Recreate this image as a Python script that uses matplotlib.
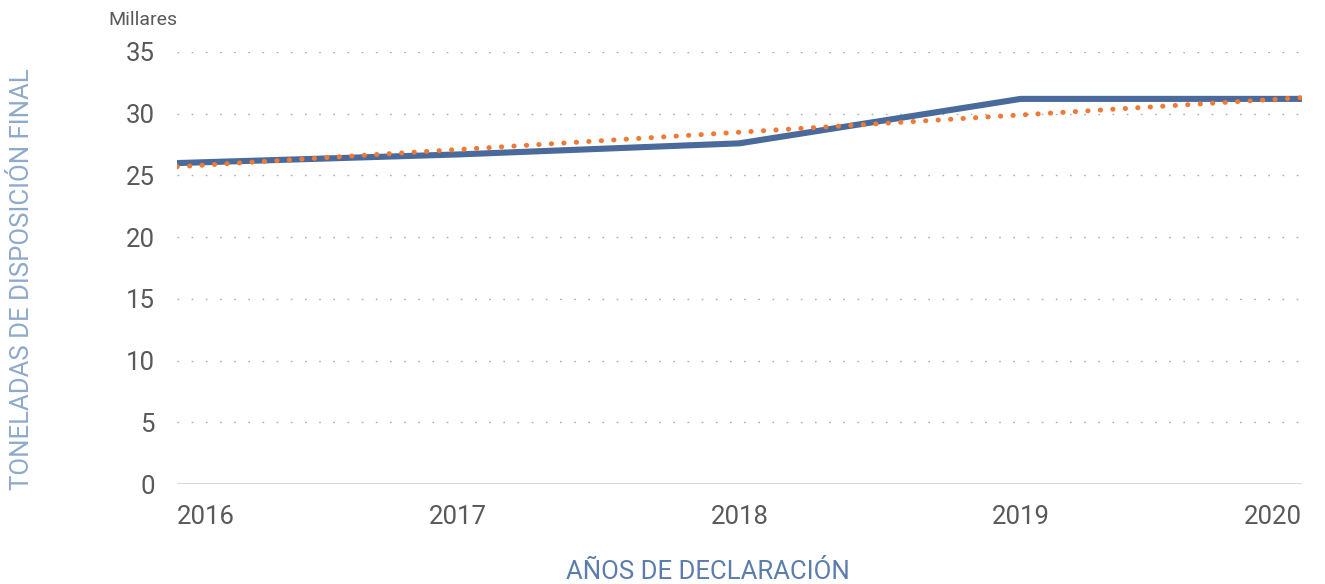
import matplotlib.pyplot as plt

plt.rcParams["font.family"] = ["Roboto", "DejaVu Sans"]

YEARS = [2016, 2017, 2018, 2019, 2020]
TONNES = [26.0, 26.7, 27.6, 31.2, 31.2]          # thousands
TREND = [25.7, 27.1, 28.5, 29.9, 31.3]           # linear trend
Y_TICKS = [0, 5, 10, 15, 20, 25, 30, 35]

BLUE = "#4A6A9C"
ORANGE = "#EF7A35"
TEXT = "#595959"

fig = plt.figure(figsize=(13.25, 5.84), dpi=100)
ax = fig.add_axes([0.1336, 0.1712, 0.8490, 0.7398])

ax.plot(YEARS, TONNES, color=BLUE, linewidth=4.4, solid_capstyle="butt", zorder=3)
ax.plot(YEARS, TREND, color=ORANGE, linewidth=3.6, linestyle=(0, (0.05, 2.45)),
        dash_capstyle="round", zorder=4)

ax.set_xlim(YEARS[0], YEARS[-1])
ax.set_ylim(0, 35)
ax.set_yticks(Y_TICKS)
ax.set_xticks(YEARS)
ax.set_xticklabels([str(y) for y in YEARS])
labels = ax.get_xticklabels()
labels[0].set_horizontalalignment("left")
labels[-1].set_horizontalalignment("right")

for y in Y_TICKS[1:]:
    ax.axhline(y, color="#A6ADBA", linewidth=1.0, linestyle=(0, (1.2, 9.0)), zorder=1)
ax.axhline(0, color="#D9D9D9", linewidth=1.5, zorder=2)

for side in ["top", "right", "left", "bottom"]:
    ax.spines[side].set_visible(False)
ax.tick_params(axis="both", length=0, labelsize=18.5, labelcolor=TEXT)
ax.tick_params(axis="y", pad=16)
ax.tick_params(axis="x", pad=15)

fig.text(0.0815, 0.966, "Millares", fontsize=14, color=TEXT, ha="left", va="center")
fig.text(0.0166, 0.522, "TONELADAS DE DISPOSICIÓN FINAL", fontsize=18.5,
         color="#8EAACB", rotation=90, ha="center", va="center")
fig.text(0.534, 0.021, "AÑOS DE DECLARACIÓN", fontsize=18.5, color="#5B7DAD",
         ha="center", va="center")

fig.savefig("out.png", dpi=100)
